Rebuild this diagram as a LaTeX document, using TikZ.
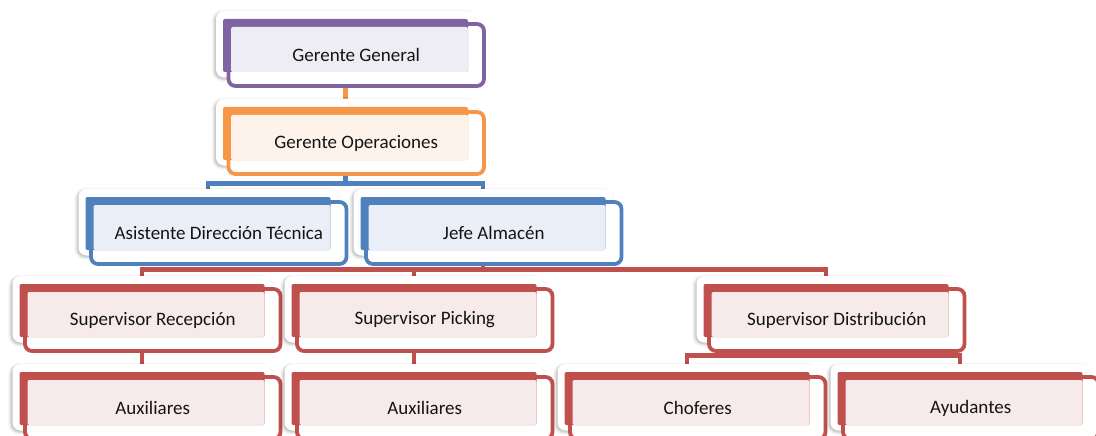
\documentclass[tikz,border=0pt]{standalone}
\usepackage{fontspec}
\setmainfont{Carlito}
\usetikzlibrary{backgrounds,shadows.blur}
\definecolor{pur}{HTML}{8064A2}
\definecolor{purl}{HTML}{EFEDF4}
\definecolor{org}{HTML}{F79646}
\definecolor{orgl}{HTML}{FEF3EA}
\definecolor{blu}{HTML}{4F81BD}
\definecolor{blul}{HTML}{EAEFF7}
\definecolor{rd}{HTML}{C0504D}
\definecolor{rdl}{HTML}{F6EAEA}
\definecolor{txt}{HTML}{141414}
\tikzset{
  card/.style={fill=white, rounded corners=8pt,
    blur shadow={shadow xshift=-1.5pt, shadow yshift=-1.5pt, shadow blur radius=3pt, shadow opacity=30}},
  outl/.style={draw=#1, fill=white, line width=3.8pt, rounded corners=7pt},
  darkbox/.style={rectangle, fill=#1, minimum width=245pt, minimum height=53pt, inner sep=0pt, rounded corners=2pt},
  lbl/.style={font=\fontsize{19}{22}\selectfont, text=txt, inner sep=0pt},
  conn/.style={draw=#1, line width=4.5pt}
}
\newcommand\orgbox[6]{%
  \path[card] (#2-129.5,#3-34.5) rectangle (#2+129.5,#3+32);
  \draw[outl=#4] (#2-117,#3-21.5) rectangle (#2+138.5,#3+40.5);
  \node[darkbox=#4] (#1) at (#2,#3) {};
  \fill[#5, rounded corners=2pt] (#2-114.5,#3-18.5) rectangle (#2+122.5,#3+26.5);
  \node[lbl] at (#2+10.75,#3+9.5) {#6};
}
\begin{document}
\begin{tikzpicture}[x=1pt,y=-1pt]
\useasboundingbox (0,0) rectangle (1096,436);
\orgbox{gg}{345.5}{45.5}{pur}{purl}{Gerente General}
\orgbox{go}{345.5}{133.5}{org}{orgl}{Gerente Operaciones}
\orgbox{asis}{208}{223.5}{blu}{blul}{Asistente Dirección Técnica}
\orgbox{jefe}{483}{223.5}{blu}{blul}{Jefe Almacén}
\orgbox{sr}{142}{310.5}{rd}{rdl}{Supervisor Recepción}
\orgbox{sp}{414}{310.5}{rd}{rdl}{Supervisor Picking}
\orgbox{sd}{826}{310.5}{rd}{rdl}{Supervisor Distribución}
\orgbox{aux1}{142}{398.5}{rd}{rdl}{Auxiliares}
\orgbox{aux2}{414}{398.5}{rd}{rdl}{Auxiliares}
\orgbox{chof}{687}{398.5}{rd}{rdl}{Choferes}
\orgbox{ayud}{960}{398.5}{rd}{rdl}{Ayudantes}
\coordinate (b1) at (0,183.5);
\coordinate (b2) at (0,269.5);
\coordinate (b3) at (0,355.5);
\begin{scope}[on background layer]
  \draw[conn=org] (gg.center) -- (go.center);
  \draw[conn=blu] (go.center) -- (go.center |- b1);
  \draw[conn=blu] (asis.center) -- (asis.center |- b1) -- (jefe.center |- b1) -- (jefe.center);
  \draw[conn=rd] (jefe.center) -- (jefe.center |- b2);
  \draw[conn=rd] (sr.center) -- (sr.center |- b2) -- (sd.center |- b2) -- (sd.center);
  \draw[conn=rd] (sp.center) -- (sp.center |- b2);
  \draw[conn=rd] (sr.center) -- (aux1.center);
  \draw[conn=rd] (sp.center) -- (aux2.center);
  \draw[conn=rd] (sd.center) -- (sd.center |- b3);
  \draw[conn=rd] (chof.center) -- (chof.center |- b3) -- (ayud.center |- b3) -- (ayud.center);
\end{scope}
\end{tikzpicture}
\end{document}
